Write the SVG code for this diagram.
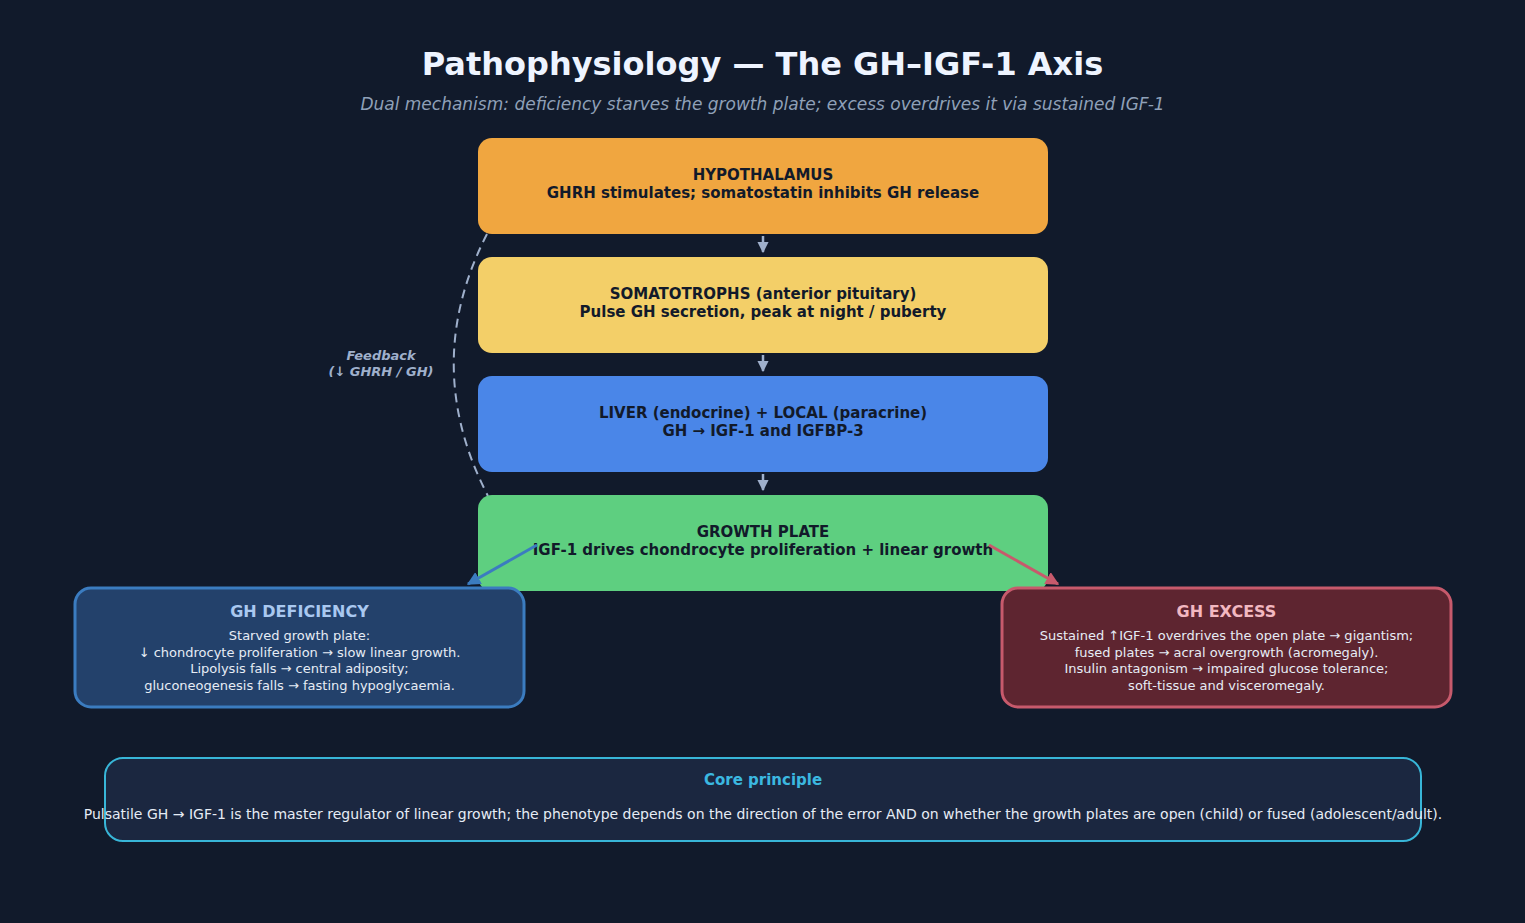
<svg xmlns="http://www.w3.org/2000/svg" width="1525" height="923" viewBox="0 0 1525 923">
<defs>
<style>
.t{font-family:"DejaVu Sans",Verdana,sans-serif}
.box{stroke:none}
.bt{font-family:"DejaVu Sans",sans-serif;font-weight:bold;font-size:15px;fill:#121a2a;text-anchor:middle}
.st{font-family:"DejaVu Sans",sans-serif;font-size:13px;fill:#e6ecf5;text-anchor:middle}
.flow{stroke:#9fb0cc;stroke-width:2.5;fill:none}
</style>
<marker id="ag" viewBox="0 0 10 10" refX="9" refY="5" markerWidth="4.5" markerHeight="4.5" orient="auto"><path d="M0,0L10,5L0,10z" fill="#9fb0cc"/></marker>
<marker id="ab" viewBox="0 0 10 10" refX="9" refY="5" markerWidth="4.5" markerHeight="4.5" orient="auto"><path d="M0,0L10,5L0,10z" fill="#3b7cc0"/></marker>
<marker id="ar" viewBox="0 0 10 10" refX="9" refY="5" markerWidth="4.5" markerHeight="4.5" orient="auto"><path d="M0,0L10,5L0,10z" fill="#c75a6c"/></marker>
</defs>
<rect width="1525" height="923" fill="#111a2b"/>
<g id="title">
<text class="t" x="762.5" y="75" text-anchor="middle" font-size="32" font-weight="bold" fill="#eef4ff">Pathophysiology — The GH–IGF-1 Axis</text>
<text class="t" x="762.5" y="110" text-anchor="middle" font-size="17" font-style="italic" fill="#8fa0b8">Dual mechanism: deficiency starves the growth plate; excess overdrives it via sustained IGF-1</text>
</g>
<g id="connectors">
<path d="M487,234 Q420,365 488,496" stroke="#9fb0cc" stroke-width="2" fill="none" stroke-dasharray="9,6"/>
<line class="flow" x1="763" y1="236" x2="763" y2="252" marker-end="url(#ag)"/>
<line class="flow" x1="763" y1="355" x2="763" y2="371" marker-end="url(#ag)"/>
<line class="flow" x1="763" y1="474" x2="763" y2="490" marker-end="url(#ag)"/>
</g>
<g id="feedback-label">
<text class="t" x="381" y="360" text-anchor="middle" font-size="13" font-style="italic" font-weight="bold" fill="#9fb0cc">Feedback</text>
<text class="t" x="381" y="376" text-anchor="middle" font-size="13" font-style="italic" font-weight="bold" fill="#9fb0cc">(↓ GHRH / GH)</text>
</g>
<g id="hypothalamus">
<rect class="box" x="478" y="138" width="570" height="96" rx="14" fill="#f0a640"/>
<text class="bt" x="763" y="180">HYPOTHALAMUS</text>
<text class="bt" x="763" y="198">GHRH stimulates; somatostatin inhibits GH release</text>
</g>
<g id="somatotrophs">
<rect class="box" x="478" y="257" width="570" height="96" rx="14" fill="#f3cf68"/>
<text class="bt" x="763" y="299">SOMATOTROPHS (anterior pituitary)</text>
<text class="bt" x="763" y="317">Pulse GH secretion, peak at night / puberty</text>
</g>
<g id="liver">
<rect class="box" x="478" y="376" width="570" height="96" rx="14" fill="#4a86e8"/>
<text class="bt" x="763" y="418">LIVER (endocrine) + LOCAL (paracrine)</text>
<text class="bt" x="763" y="436">GH → IGF-1 and IGFBP-3</text>
</g>
<g id="growth-plate">
<rect class="box" x="478" y="495" width="570" height="96" rx="14" fill="#5ecf80"/>
<text class="bt" x="763" y="537">GROWTH PLATE</text>
<text class="bt" x="763" y="555">IGF-1 drives chondrocyte proliferation + linear growth</text>
</g>
<g id="deficiency">
<rect x="75" y="588" width="449" height="119" rx="16" fill="#23416b" stroke="#3b7cc0" stroke-width="3"/>
<text class="t" x="299.5" y="617" text-anchor="middle" font-size="16" font-weight="bold" fill="#a9c8f0">GH DEFICIENCY</text>
<text class="st" x="299.5" y="640">Starved growth plate:</text>
<text class="st" x="299.5" y="657">↓ chondrocyte proliferation → slow linear growth.</text>
<text class="st" x="299.5" y="673">Lipolysis falls → central adiposity;</text>
<text class="st" x="299.5" y="690">gluconeogenesis falls → fasting hypoglycaemia.</text>
</g>
<g id="excess">
<rect x="1002" y="588" width="449" height="119" rx="16" fill="#5e2530" stroke="#c75a6c" stroke-width="3"/>
<text class="t" x="1226.5" y="617" text-anchor="middle" font-size="16" font-weight="bold" fill="#f2b8c0">GH EXCESS</text>
<text class="st" x="1226.5" y="640">Sustained ↑IGF-1 overdrives the open plate → gigantism;</text>
<text class="st" x="1226.5" y="657">fused plates → acral overgrowth (acromegaly).</text>
<text class="st" x="1226.5" y="673">Insulin antagonism → impaired glucose tolerance;</text>
<text class="st" x="1226.5" y="690">soft-tissue and visceromegaly.</text>
</g>
<g id="branch-connectors">
<line x1="537" y1="545" x2="468" y2="584" stroke="#3b7cc0" stroke-width="3" marker-end="url(#ab)"/>
<line x1="989" y1="545" x2="1058" y2="584" stroke="#c75a6c" stroke-width="3" marker-end="url(#ar)"/>
</g>
<g id="core-principle">
<rect x="105" y="758" width="1316" height="83" rx="18" fill="#1b2740" stroke="#38b6d8" stroke-width="2"/>
<text class="t" x="763" y="785" text-anchor="middle" font-size="15" font-weight="bold" fill="#3bb8e0">Core principle</text>
<text class="t" x="763" y="819" text-anchor="middle" font-size="14" fill="#e6ecf5">Pulsatile GH → IGF-1 is the master regulator of linear growth; the phenotype depends on the direction of the error AND on whether the growth plates are open (child) or fused (adolescent/adult).</text>
</g>
</svg>
